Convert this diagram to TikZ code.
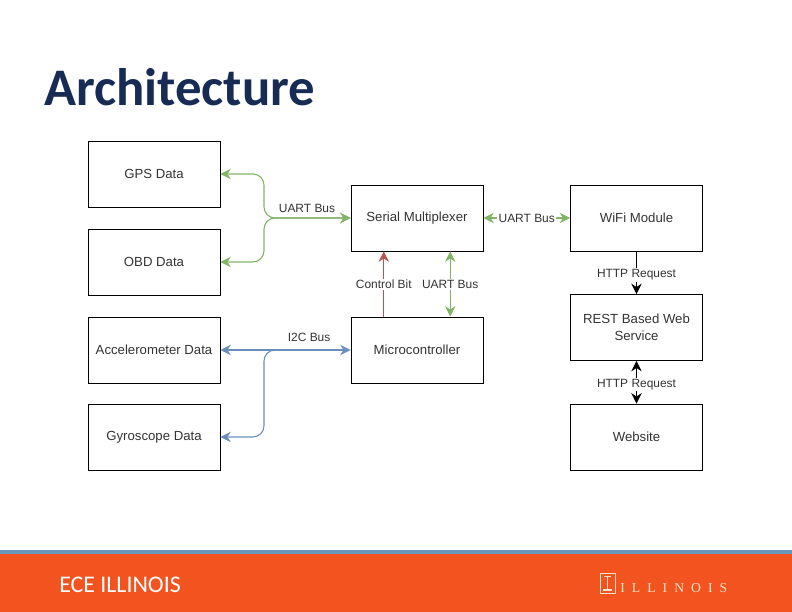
\documentclass[tikz,border=0pt]{standalone}
\usepackage{fontspec}
\setmainfont{Liberation Sans}
\newfontfamily\titlefont{Carlito}
\newfontfamily\crestfont[LetterSpace=52]{Liberation Serif}
\usetikzlibrary{arrows.meta,calc}
\definecolor{titleNavy}{RGB}{23,43,84}
\definecolor{busGreen}{RGB}{130,179,102}
\definecolor{busBlue}{RGB}{108,142,191}
\definecolor{busRed}{RGB}{184,84,80}
\definecolor{footOrange}{RGB}{243,83,30}
\definecolor{footBlue}{RGB}{104,150,186}
\definecolor{crestCream}{RGB}{250,225,205}
\tikzset{
  blockbox/.style={draw, line width=0.65pt, minimum width=95pt, minimum height=47.5pt, align=center, inner sep=1pt, font=\fontsize{9.5}{12}\selectfont},
  buslabel/.style={fill=white, inner sep=1pt},
  bus/.style={line width=0.8pt, {Stealth[length=7.5pt,width=7.5pt]}-{Stealth[length=7.5pt,width=7.5pt]}},
  oneway/.style={line width=0.8pt, -{Stealth[length=7.5pt,width=7.5pt]}}
}
\begin{document}
\begin{tikzpicture}[x=0.72pt, y=0.72pt, every node/.style={font=\fontsize{8.6}{11}\selectfont, text=black!80}]
  \useasboundingbox (0,0) rectangle (792,612);
  % footer band  y=550..612  (y axis inverted for display)
  \fill[footOrange](0,0) rectangle (792,58);
  \fill[footBlue](0,58) rectangle (792,62);
  % title
  \node[anchor=west, inner sep=0pt, text=titleNavy, font=\titlefont\bfseries\fontsize{38}{44}\selectfont] (title) at (44,525){Architecture};
  % sensor column
  \node[blockbox] (gps) at (154,438){GPS Data};
  \node[blockbox] (obd) at (154,350){OBD Data};
  \node[blockbox] (accel) at (154,262){Accelerometer Data};
  \node[blockbox] (gyro) at (154,175){Gyroscope Data};
  % middle column
  \node[blockbox] (mux) at (417,394){Serial Multiplexer};
  \node[blockbox] (micro) at (417,262){Microcontroller};
  % right column
  \node[blockbox] (wifi) at (636.5,394){WiFi Module};
  \node[blockbox] (rest) at (636.5,284.5){REST Based Web\\Service};
  \node[blockbox] (web) at (636.5,175){Website};
  % green uart bus, trunk at x=264
  \coordinate (uartTrunk) at (264,394);
  \draw[bus, busGreen, rounded corners=8pt](gps.east) -| (uartTrunk) -- (mux.west);
  \draw[bus, busGreen, rounded corners=8pt](obd.east) -| (uartTrunk) -- (mux.west);
  \node (uartLabel) at (307,404){UART Bus};
  % blue i2c bus
  \coordinate (i2cTrunk) at (264,262);
  \coordinate (i2cJoin) at (274,262);
  \draw[bus, busBlue](accel.east) -- node[pos=0.5, above=2pt, xshift=17pt, text=black!80]{I2C Bus} (micro.west);
  \draw[line width=0.8pt, busBlue, {Stealth[length=7.5pt,width=7.5pt]}-, rounded corners=8pt](gyro.east) -| (i2cTrunk) -- (i2cJoin);
  % links between mux and micro
  \draw[oneway, busRed]($(micro.north west)!0.25!(micro.north east)$) -- node[buslabel, yshift=-0.5pt]{Control Bit} ($(mux.south west)!0.25!(mux.south east)$);
  \draw[bus, busGreen]($(micro.north west)!0.75!(micro.north east)$) -- node[buslabel, yshift=-0.5pt]{UART Bus} ($(mux.south west)!0.75!(mux.south east)$);
  \draw[bus, busGreen](mux.east) -- node[buslabel]{UART Bus} (wifi.west);
  % http links
  \draw[oneway, black](wifi.south) -- node[buslabel, yshift=-1.5pt]{HTTP Request} (rest.north);
  \draw[bus, black](web.north) -- node[buslabel, yshift=-1.5pt]{HTTP Request} (rest.south);
  % footer text and crest
  \node[anchor=west, inner sep=0pt, text=white, font=\titlefont\fontsize{17.2}{20}\selectfont] (ece) at (59,27){ECE ILLINOIS};
  \node[anchor=west, inner sep=0pt, text=crestCream, font=\crestfont\fontsize{9.8}{12}\selectfont] (crest) at (620,24){ILLINOIS};
  \draw[crestCream, line width=0.5pt](600,19) rectangle (615,39);
  \draw[crestCream, line width=1pt](607.5,23) -- (607.5,35);
  \draw[crestCream, line width=0.8pt](603,22) -- (612,22) (604,35.5) -- (611,35.5);
\end{tikzpicture}
\end{document}
